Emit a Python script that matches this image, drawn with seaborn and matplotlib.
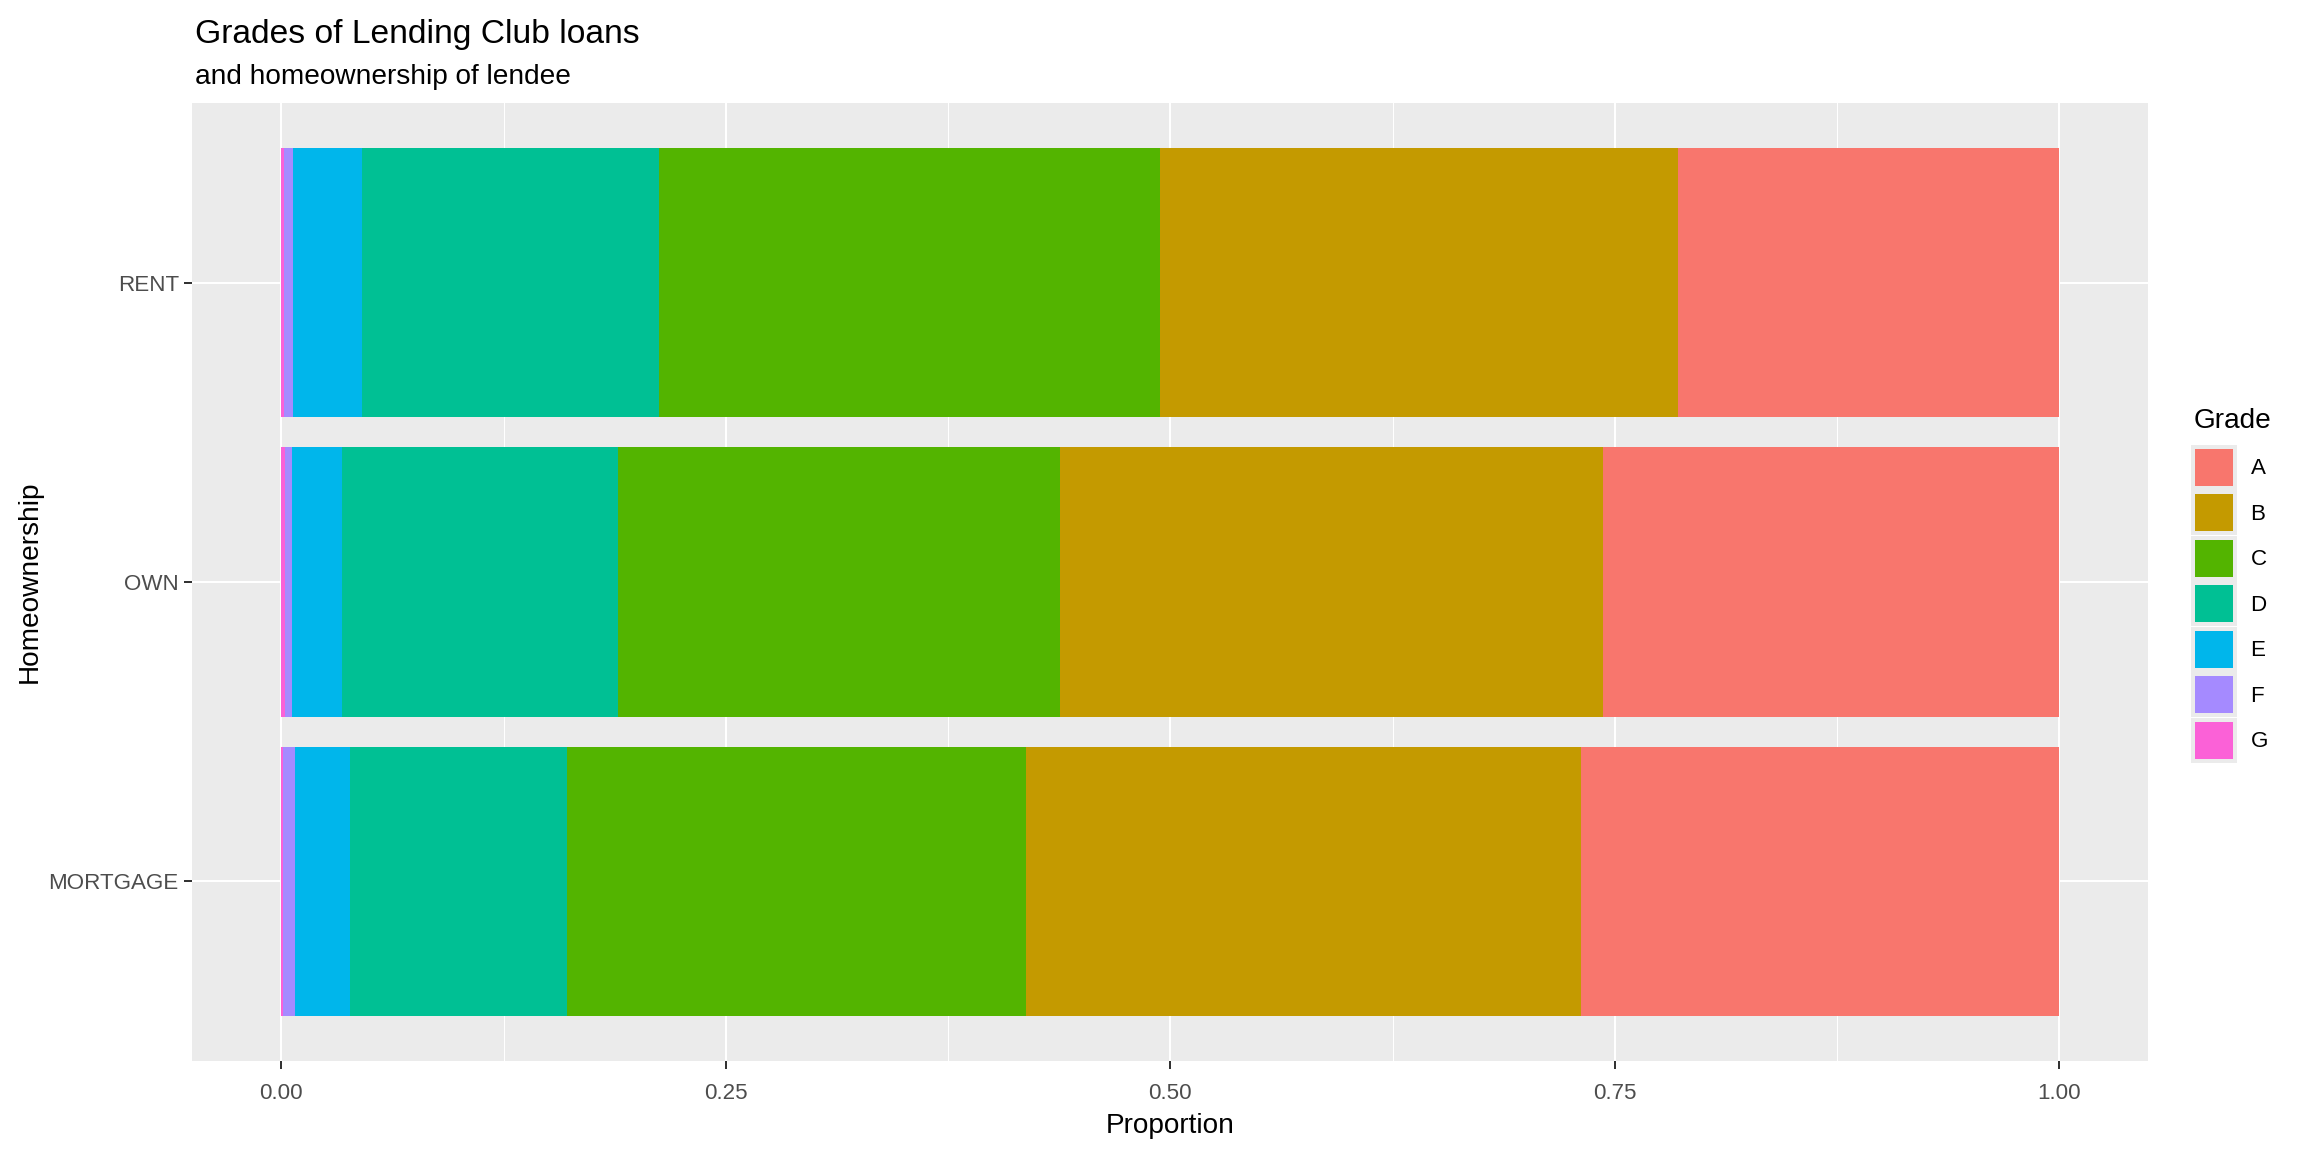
import pandas as pd
import matplotlib.pyplot as plt
import seaborn as sns
from matplotlib.patches import Patch
from matplotlib.ticker import MultipleLocator

# Dane (udział każdej kategorii w danym typie własności)
homes = ['RENT', 'OWN', 'MORTGAGE']
grades = ['A', 'B', 'C', 'D', 'E', 'F', 'G']
prop_rent = [0.2144, 0.2916, 0.2813, 0.1671, 0.0388, 0.0051, 0.0017]
prop_own = [0.2566, 0.3054, 0.2484, 0.1552, 0.0282, 0.0039, 0.0023]
prop_mortgage = [0.2690, 0.3121, 0.2583, 0.1217, 0.0310, 0.0068, 0.0011]
grade_colors = ['#F8766D', '#C49A00', '#53B400', '#00C094', '#00B6EB', '#A58AFF', '#FB61D7']

rows = []
for home, props in zip(homes, [prop_rent, prop_own, prop_mortgage]):
    for g, p in zip(grades, props):
        rows.append({'home': home, 'grade': g, 'prop': p})
df = pd.DataFrame(rows)

# skumulowane od G do A (G po lewej, A po prawej)
df['grade'] = pd.Categorical(df['grade'], categories=grades[::-1], ordered=True)
df = df.sort_values(['home', 'grade'])
df['cum'] = df.groupby('home')['prop'].cumsum()

plt.rcParams['font.family'] = ['Liberation Sans', 'DejaVu Sans']
fig = plt.figure(figsize=(16, 8), dpi=144)
ax = fig.add_axes([0.0835, 0.079, 0.8489, 0.8317])

# rysowanie od A (najdłuższy) do G (najkrótszy) - nakładające się słupki
for g, c in zip(grades, grade_colors):
    sub = df[df['grade'] == g]
    sns.barplot(data=sub, x='cum', y='home', order=homes, color=c, orient='h',
                width=0.9, errorbar=None, saturation=1, ax=ax, zorder=3, linewidth=0)

ax.set_facecolor('#EBEBEB')
ax.set_xlim(-0.05, 1.05)
ax.set_ylim(2.6, -0.6)
ax.xaxis.set_minor_locator(MultipleLocator(0.125))
ax.set_xticks([0, 0.25, 0.5, 0.75, 1.0])
ax.set_xticklabels(['0.00', '0.25', '0.50', '0.75', '1.00'])
ax.grid(which='major', color='white', linewidth=1.0, zorder=0)
ax.grid(which='minor', axis='x', color='white', linewidth=0.5, zorder=0)
ax.set_axisbelow(True)
for s in ax.spines.values():
    s.set_visible(False)
ax.tick_params(axis='both', which='major', length=3.8, width=1.0, color='#333333',
               labelcolor='#4D4D4D', labelsize=11.2, pad=3)
ax.tick_params(axis='x', which='major', pad=7)
ax.tick_params(axis='x', which='minor', length=0)
ax.set_xlabel('Proportion', fontsize=14, color='black', labelpad=4.5)
ax.set_ylabel('Homeownership', fontsize=14, color='black', labelpad=3)

fig.text(0.0848, 0.963, 'Grades of Lending Club loans', fontsize=16.8, va='baseline', ha='left')
fig.text(0.0848, 0.927, 'and homeownership of lendee', fontsize=14, va='baseline', ha='left')

# legenda: tytuł osobno, żeby odstęp był jak w oryginale
fig.text(0.9522, 0.6285, 'Grade', fontsize=14, va='baseline', ha='left')
handles = [Patch(facecolor=c, edgecolor='#EBEBEB', linewidth=2, label=g)
           for g, c in zip(grades, grade_colors)]
leg = fig.legend(handles=handles, loc='upper left',
                 bbox_to_anchor=(0.952, 0.612), frameon=False, fontsize=11.2,
                 handlelength=1.85, handleheight=2.44,
                 labelspacing=0.2, handletextpad=0.7, borderpad=0, borderaxespad=0)

fig.savefig('out.png', dpi=144)
